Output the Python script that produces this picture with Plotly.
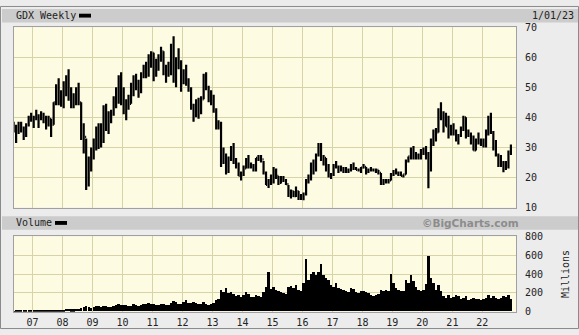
import plotly.graph_objects as go
import pandas as pd

# ---------------- data (monthly) ----------------
months = list(pd.date_range("2006-05-01", periods=200, freq="MS") + pd.Timedelta(days=14))

high = [
    38.5, 37.5, 38.5, 38.5, 37, 38, 40.5, 41.5,
    40.5, 42.5, 41, 42, 41.5, 40.5, 40.5, 39.5, 45, 51, 53, 49,
    52, 54, 56, 50, 48, 50, 51.5, 45, 38, 33, 27, 30,
    33, 37, 38, 38, 44, 44.5, 42, 42.5, 47, 50, 54, 55,
    50, 46, 47.5, 51.5, 54, 54.5, 52.5, 55, 57.5, 58.5, 61, 62,
    61.5, 59.5, 61, 63.5, 62, 57.5, 58.5, 64.5, 66.98, 60, 63, 59,
    56, 57.5, 53, 50, 44.5, 46, 46.5, 47, 54.5, 55, 50.5, 49,
    47.5, 43, 39, 38.5, 30, 28, 27, 30.5, 31.5, 26.5, 25, 22,
    24, 26.5, 27.5, 25, 24.5, 26.5, 27.5, 27.5, 25.5, 22, 19.5, 21,
    23.5, 23, 20.5, 20.5, 20.5, 19.5, 17.5, 16, 15.5, 17, 15.5, 14.5,
    15, 19.5, 21, 25, 26, 28, 31.5, 31.5, 27.5, 26.5, 24.5, 21.5,
    24.5, 25.5, 24, 24, 23.5, 23.5, 23, 24.5, 25, 23.5, 23, 23.5,
    24.5, 23.5, 23, 23.5, 23, 23, 22.5, 21.5, 19.5, 19.5, 19.5, 21.5,
    22.5, 23, 22, 22, 21, 26, 27, 30, 30.5, 28.5, 28, 29.5,
    30, 30.5, 28.5, 33, 36, 36.5, 43, 45, 42, 41.5, 40.5, 37.5,
    38, 36, 34.5, 37, 40.5, 40, 36, 35, 34, 33, 35, 33,
    33, 36, 40.5, 41.5, 35.5, 32.5, 28, 27.5, 25.5, 25.5, 29, 31,
]
low = [
    35, 31.5, 34.5, 35, 32.5, 33.5, 37, 38.5,
    36.5, 39, 36.5, 39, 38, 36, 37, 33.5, 37.5, 44, 44, 43.5,
    43, 47, 45.5, 43, 43, 44, 44, 32.5, 28, 15.8, 17, 22,
    26, 29, 29.5, 30, 31.5, 35.5, 34.5, 38, 40.5, 43, 44.5, 44,
    41, 39, 42.5, 44.5, 47, 49, 46.5, 48, 53, 53, 53.5, 56.5,
    52, 53.5, 55.5, 58.5, 54, 51.5, 53.5, 54, 51.5, 50, 56, 48.5,
    51, 50.5, 48.5, 42.5, 38.5, 40, 39.5, 41, 46, 49, 45, 44,
    41.5, 36, 36, 23.5, 24.5, 21, 21.5, 25.5, 24.5, 23, 20.5, 19,
    20.5, 23, 23, 23, 22, 22, 25.5, 25, 21, 17.5, 16.5, 17.5,
    18, 19.5, 17.5, 18, 18.5, 17.5, 13.5, 13, 13.5, 13.5, 12.5, 12.5,
    12.4, 14, 18, 19, 21, 22, 27, 25.5, 24, 22, 20, 19.5,
    20.5, 23, 21.5, 22, 21.5, 21.5, 21.5, 22, 22.5, 22.5, 22, 21.5,
    23, 21, 21.5, 22, 22, 21.5, 21, 17.5, 17.5, 18, 18, 19,
    20.5, 21, 20.5, 20.5, 20, 21, 25, 26, 26, 26, 26, 26,
    27.5, 26, 16.4, 22, 30.5, 32, 35, 39, 35, 37, 33, 34,
    34, 32, 31, 33.5, 35.5, 33, 33.5, 31, 29, 29, 31, 30.5,
    30, 30, 34, 34.5, 29, 27, 23.5, 23.5, 21.7, 22.5, 23, 27.5,
]
close = [
    37, 36, 36.5, 36, 35, 37.5, 40, 39.5,
    39.5, 40, 39.5, 40.5, 39.5, 37.5, 39.5, 37.5, 45, 50, 46.5, 46,
    51, 52, 47.5, 44, 47, 48.5, 45, 34, 33.5, 20, 25, 28.5,
    30.5, 33.5, 36.9, 32, 43.5, 37.8, 41.5, 41.5, 46, 45, 53, 46.4,
    42, 45.5, 44.5, 51, 52, 52, 48.5, 54.5, 56, 55.5, 60, 61.5,
    54.5, 59, 60, 62, 56, 54.5, 57, 62, 52.5, 58.5, 57.5, 51.5,
    55, 51, 49.5, 43, 41.5, 44.5, 43, 46, 53.5, 50, 48, 46.4,
    42.5, 37.5, 37.8, 27.5, 27, 24, 26.5, 29, 25, 24.5, 20.5, 21,
    23, 25.5, 23.5, 24, 22.5, 26.5, 26.5, 26, 21.5, 17.5, 18.5, 18.4,
    22, 20.5, 18.2, 19.5, 19, 17.8, 14, 15.5, 13.8, 15.5, 13, 13.7,
    14.5, 18.5, 20, 24.5, 22.5, 27.5, 29.5, 26, 26.5, 22.5, 20.5, 21,
    23.5, 23.5, 22.8, 22.5, 22.5, 22.4, 22.5, 24, 23, 22.5, 22.5, 23.3,
    23.5, 22, 22.5, 22.5, 22.5, 22.5, 21.5, 18.5, 18.5, 19, 19, 21,
    22, 21.5, 21.5, 20.5, 21, 25.5, 27, 29.5, 26.5, 27.5, 26.5, 29,
    28, 26.5, 23, 32, 34.5, 35, 42.5, 41, 39, 37, 35, 36,
    34.5, 32.5, 34, 36, 40, 34, 34.5, 32, 29, 32, 32, 32,
    30.5, 35.5, 38.5, 35, 30.5, 27.5, 25.5, 24, 24, 23.5, 28.5, 30,
]
volume = [  # millions
    2, 3, 3, 3, 4, 4, 5, 5,
    5, 6, 6, 5, 6, 6, 7, 9, 10, 12, 14, 12,
    18, 22, 25, 20, 20, 22, 25, 30, 45, 55, 40, 35,
    45, 55, 60, 50, 60, 55, 50, 45, 60, 65, 75, 70,
    70, 65, 55, 60, 75, 70, 60, 70, 80, 75, 90, 75,
    80, 70, 65, 75, 80, 70, 65, 90, 110, 95, 75, 80,
    95, 120, 85, 90, 100, 85, 75, 80, 95, 80, 70, 75,
    90, 120, 130, 230, 200, 250, 190, 200, 180, 160, 170, 150,
    170, 200, 180, 150, 150, 170, 160, 150, 200, 260, 420, 240,
    260, 230, 220, 200, 190, 180, 260, 270, 250, 280, 230, 220,
    300, 560, 330, 400, 420, 380, 420, 500, 380, 350, 330, 280,
    260, 300, 250, 240, 230, 220, 200, 250, 240, 200, 190, 210,
    220, 200, 190, 170, 160, 170, 180, 230, 220, 230, 210, 400,
    300, 250, 230, 210, 220, 330, 300, 380, 320, 260, 230, 220,
    230, 290, 590, 350, 300, 230, 280, 220, 160, 140, 170, 140,
    150, 170, 160, 130, 140, 160, 120, 130, 140, 130, 130, 120,
    130, 140, 170, 140, 160, 140, 130, 140, 160, 150, 170, 130,
]
opens = [close[0]] + close[:-1]

year_ticks = [pd.Timestamp(f"{y}-01-01") for y in range(2007, 2023)]
year_labels = [f"{y % 100:02d}" for y in range(2007, 2023)]
price_ticks = [10, 20, 30, 40, 50, 60, 70]
vol_ticks = [0, 200, 400, 600, 800]

# ---------------- figure ----------------
W, H = 579, 335
def fx(p): return p / W
def fy(p): return 1 - p / H

FONT = "DejaVu Sans Mono"
BG = "#ececec"
BAR = "#cccccc"
PLOT = "#fdfce3"
GRID = "#d6d3a6"
FRAME = "#a0a0a0"

fig = go.Figure()
fig.add_trace(go.Ohlc(
    x=months, open=opens, high=high, low=low, close=close,
    increasing_line_color="black", decreasing_line_color="black",
    line_width=2.2, tickwidth=0.45, xaxis="x", yaxis="y", showlegend=False,
    hoverinfo="skip"))
fig.add_trace(go.Bar(
    x=months, y=volume, marker_color="black", marker_line_width=0,
    width=29 * 86400000, xaxis="x2", yaxis="y2", showlegend=False))

xr = ["2006-05-20", "2023-02-15"]
common_x = dict(range=xr, type="date", tickvals=year_ticks, ticktext=year_labels,
                showgrid=True, gridcolor=GRID, gridwidth=1, showline=True,
                linecolor=FRAME, mirror=True, zeroline=False, fixedrange=True)

fig.update_layout(
    width=W, height=H, margin=dict(l=0, r=0, t=0, b=0),
    paper_bgcolor=BG, plot_bgcolor=PLOT, bargap=0,
    font=dict(family=FONT, size=10, color="#222"),
    xaxis=dict(**common_x, domain=[fx(14), fx(516)], anchor="y",
               showticklabels=False, rangeslider=dict(visible=False)),
    xaxis2=dict(**common_x, domain=[fx(14), fx(516)], anchor="y2",
                showticklabels=True, ticks="outside", ticklen=1,
                tickcolor="rgba(0,0,0,0)", tickfont=dict(family=FONT, size=10, color="#222")),
    yaxis=dict(domain=[fy(209), fy(22)], range=[10, 70], tickvals=price_ticks,
               side="right", anchor="x", showgrid=True, gridcolor=GRID,
               showline=True, linecolor=FRAME, mirror=True, zeroline=False,
               ticks="outside", ticklen=6, tickcolor="rgba(0,0,0,0)"),
    yaxis2=dict(domain=[fy(317), fy(239)], range=[0, 800], tickvals=vol_ticks,
                side="right", anchor="x2", showgrid=True, gridcolor=GRID,
                showline=True, linecolor=FRAME, mirror=True, zeroline=False,
                ticks="outside", ticklen=6, tickcolor="rgba(0,0,0,0)"),
)

shapes = [
    # header bars
    dict(type="rect", xref="paper", yref="paper", x0=fx(2), x1=1, y0=fy(17), y1=fy(3),
         fillcolor=BAR, line_width=0, layer="below"),
    dict(type="rect", xref="paper", yref="paper", x0=fx(2), x1=1, y0=fy(232), y1=fy(218),
         fillcolor=BAR, line_width=0, layer="below"),
    # legend swatches
    dict(type="rect", xref="paper", yref="paper", x0=fx(79), x1=fx(91), y0=fy(12), y1=fy(8),
         fillcolor="black", line_width=0),
    dict(type="rect", xref="paper", yref="paper", x0=fx(55), x1=fx(67), y0=fy(227), y1=fy(223),
         fillcolor="black", line_width=0),
    # outer frame
    dict(type="rect", xref="paper", yref="paper", x0=fx(0.5), x1=fx(578.5), y0=fy(334.5), y1=fy(0.5),
         line=dict(color="#8a8a8a", width=1), fillcolor="rgba(0,0,0,0)"),
]
fig.update_layout(shapes=shapes)

ann = [
    dict(text="GDX Weekly", x=fx(14), y=fy(10), xanchor="left", yanchor="middle"),
    dict(text="1/01/23", x=fx(576), y=fy(10), xanchor="right", yanchor="middle"),
    dict(text="Volume", x=fx(14), y=fy(225), xanchor="left", yanchor="middle"),
    dict(text="<b>©BigCharts.com</b>", x=fx(470), y=fy(225), xanchor="center", yanchor="middle",
         font=dict(family="DejaVu Sans", size=10.5, color="#8c8c8c")),
    dict(text="Millions", x=fx(565), y=fy(278), xanchor="center", yanchor="middle", textangle=-90),
]
for a in ann:
    a.setdefault("font", dict(family=FONT, size=10, color="#222"))
    fig.add_annotation(xref="paper", yref="paper", showarrow=False, **a)

fig.write_html("out.html")
